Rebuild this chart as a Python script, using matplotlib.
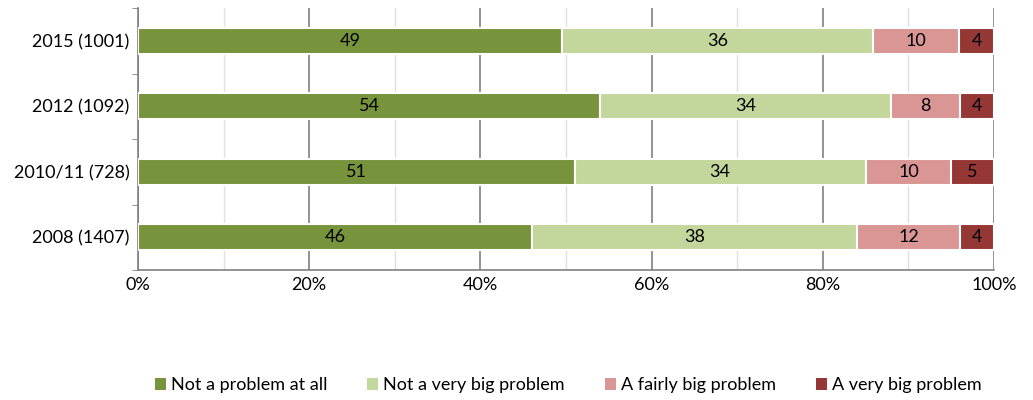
import matplotlib.pyplot as plt
import numpy as np
from matplotlib.patches import Patch

plt.rcParams['font.family'] = ['Lato', 'DejaVu Sans']

# Datos
categories = ['2015 (1001)', '2012 (1092)', '2010/11 (728)', '2008 (1407)']
series_names = ['Not a problem at all', 'Not a very big problem',
                'A fairly big problem', 'A very big problem']
not_at_all = [49, 54, 51, 46]
not_very_big = [36, 34, 34, 38]
fairly_big = [10, 8, 10, 12]
very_big = [4, 4, 5, 4]
colors = ['#77933C', '#C3D69B', '#D99694', '#953735']

values = np.array([not_at_all, not_very_big, fairly_big, very_big], dtype=float)
shares = values / values.sum(axis=0) * 100  # cada barra suma 100%

fig = plt.figure(figsize=(10.33, 4), dpi=100)
ax = fig.add_axes([0.1336, 0.325, 0.8287, 0.655])

y = np.arange(len(categories))[::-1]
left = np.zeros(len(categories))
for i in range(4):
    ax.barh(y, shares[i], left=left, height=0.4, color=colors[i],
            edgecolor='white', linewidth=1.5, zorder=3)
    for yy, l, w, v in zip(y, left, shares[i], values[i]):
        ax.text(l + w / 2, yy, f'{int(v)}', ha='center', va='center',
                fontsize=13, color='black', zorder=4)
    left += shares[i]

ax.set_xlim(0, 100)
ax.set_ylim(-0.5, len(categories) - 0.5)
ax.set_xticks(np.arange(0, 101, 20))
ax.set_xticklabels([f'{t}%' for t in range(0, 101, 20)])
ax.set_xticks(np.arange(10, 100, 20), minor=True)
ax.grid(axis='x', which='major', color='#808080', linewidth=1.2, zorder=0)
ax.grid(axis='x', which='minor', color='#E0E0E0', linewidth=1.0, zorder=0)
ax.tick_params(axis='x', which='both', length=0, labelsize=13, pad=5)

ax.set_yticks(y)
ax.set_yticklabels(categories)
ax.set_yticks(np.arange(-0.5, len(categories)), minor=True)
ax.tick_params(axis='y', which='major', length=0, labelsize=13, pad=6)
ax.tick_params(axis='y', which='minor', length=4, color='#808080')

for s in ['top', 'right']:
    ax.spines[s].set_visible(False)
for s in ['left', 'bottom']:
    ax.spines[s].set_color('#808080')
    ax.spines[s].set_linewidth(1.2)

handles = [Patch(facecolor=c, edgecolor='none') for c in colors]
fig.legend(handles, series_names, loc='center', bbox_to_anchor=(0.55, 0.037),
           ncol=4, frameon=False, fontsize=13, handlelength=0.6, handleheight=0.6,
           handletextpad=0.3, columnspacing=2.2)

plt.savefig('out.png')
